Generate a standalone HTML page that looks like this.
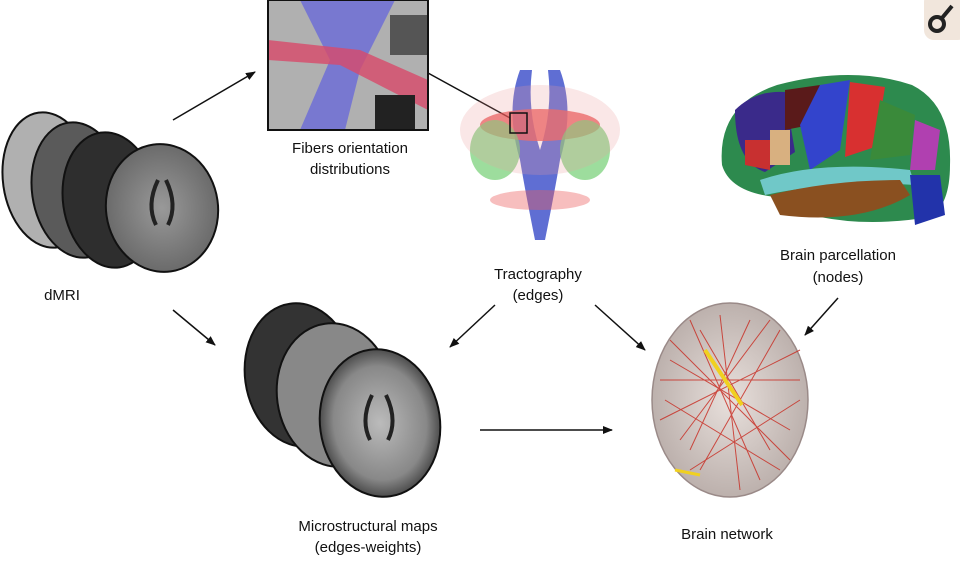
<!DOCTYPE html>
<html><head><meta charset="utf-8"><style>
html,body{margin:0;padding:0;background:#fff;}
svg{display:block;font-family:"Liberation Sans",sans-serif;}
</style></head><body>
<svg width="960" height="562" viewBox="0 0 960 562" xmlns="http://www.w3.org/2000/svg">
<defs>
<marker id="a" markerWidth="10" markerHeight="10" refX="9" refY="5" orient="auto" markerUnits="userSpaceOnUse"><path d="M0,1 L10,5 L0,9 z" fill="#111"/></marker>
<radialGradient id="g1" cx="50%" cy="50%" r="55%"><stop offset="0" stop-color="#999"/><stop offset="1" stop-color="#666"/></radialGradient>
<radialGradient id="g2" cx="50%" cy="50%" r="55%"><stop offset="0" stop-color="#bbb"/><stop offset="0.7" stop-color="#888"/><stop offset="1" stop-color="#333"/></radialGradient>
<radialGradient id="gb" cx="50%" cy="50%" r="55%"><stop offset="0" stop-color="#e8e0dc"/><stop offset="1" stop-color="#b8aca8"/></radialGradient>
</defs>
<rect width="960" height="562" fill="#fff"/>
<rect x="924" y="-8" width="44" height="48" rx="10" fill="#f1e6dc"/>
<circle cx="937" cy="24" r="7" fill="none" stroke="#222" stroke-width="4"/>
<line x1="942" y1="18" x2="952" y2="6" stroke="#222" stroke-width="4"/>
<!-- dMRI slices -->
<ellipse cx="48" cy="180" rx="45" ry="68" transform="rotate(-8 48 180)" fill="#b0b0b0" stroke="#111" stroke-width="2"/>
<ellipse cx="78" cy="190" rx="46" ry="68" transform="rotate(-8 78 190)" fill="#5a5a5a" stroke="#111" stroke-width="2"/>
<ellipse cx="110" cy="200" rx="47" ry="68" transform="rotate(-8 110 200)" fill="#2e2e2e" stroke="#111" stroke-width="2"/>
<ellipse cx="162" cy="208" rx="56" ry="64" transform="rotate(-8 162 208)" fill="url(#g1)" stroke="#111" stroke-width="2"/>
<path d="M158,180 q-12,25 -2,45 M166,180 q12,25 2,45" stroke="#222" stroke-width="4" fill="none"/>
<text x="62" y="300" font-size="15" fill="#111" text-anchor="middle">dMRI</text>
<!-- FOD box -->
<rect x="268" y="0" width="160" height="130" fill="#b0b0b0"/>
<path d="M300,0 L330,60 L300,130 L345,130 L360,70 L395,0 z" fill="#6a6ad8" opacity="0.8"/>
<path d="M268,60 L340,65 L428,110 L428,80 L360,50 L268,40 z" fill="#d84a6a" opacity="0.8"/>
<rect x="390" y="15" width="38" height="40" fill="#555"/>
<rect x="375" y="95" width="40" height="35" fill="#222"/>
<rect x="268" y="0" width="160" height="130" fill="none" stroke="#111" stroke-width="2"/>
<text x="350" y="153" font-size="15" fill="#111" text-anchor="middle">Fibers orientation</text>
<text x="350" y="174" font-size="15" fill="#111" text-anchor="middle">distributions</text>
<line x1="428" y1="73" x2="510" y2="118" stroke="#111" stroke-width="1.5"/>
<!-- tractography -->
<g opacity="0.85">
<path d="M520,70 q-15,40 0,90 q5,30 15,80 l10,0 q10,-50 15,-80 q15,-50 0,-90 l-12,0 q5,40 -8,80 q-13,-40 -8,-80 z" fill="#4455cc"/>
<ellipse cx="540" cy="125" rx="60" ry="16" fill="#e84040" opacity="0.8"/>
<ellipse cx="495" cy="150" rx="25" ry="30" fill="#5cc85c" opacity="0.7"/>
<ellipse cx="585" cy="150" rx="25" ry="30" fill="#5cc85c" opacity="0.7"/>
<ellipse cx="540" cy="130" rx="80" ry="45" fill="#e88a8a" opacity="0.25"/>
<ellipse cx="540" cy="200" rx="50" ry="10" fill="#e84040" opacity="0.4"/>
</g>
<rect x="510" y="113" width="17" height="20" fill="none" stroke="#111" stroke-width="1.5"/>
<text x="538" y="279" font-size="15" fill="#111" text-anchor="middle">Tractography</text>
<text x="538" y="300" font-size="15" fill="#111" text-anchor="middle">(edges)</text>
<!-- parcellation -->
<path d="M722,165 q-5,-60 55,-80 q75,-20 135,0 q40,20 38,80 q0,40 -20,52 q-60,10 -110,0 q-30,-5 -45,-20 q-45,-5 -53,-32 z" fill="#2d8a4e"/>
<path d="M735,110 q20,-20 50,-18 l10,60 l-30,20 q-30,-10 -30,-62 z" fill="#3a2a8a"/>
<path d="M785,90 l35,-5 l-10,40 l-25,5 z" fill="#5a1a1a"/>
<path d="M820,85 l30,-5 l-10,70 l-30,20 l-10,-45 z" fill="#3344cc"/>
<path d="M850,82 l35,5 l-10,60 l-30,10 z" fill="#d83030"/>
<path d="M880,100 l35,15 l-5,40 l-40,5 z" fill="#3a8a3a"/>
<path d="M915,120 l25,10 l-5,40 l-25,0 z" fill="#b040b0"/>
<path d="M770,130 l20,0 l0,35 l-20,0 z" fill="#d8b080"/>
<path d="M745,140 l25,0 l0,30 l-25,-5 z" fill="#c83030"/>
<path d="M760,180 q60,-20 150,-10 l5,15 q-80,-5 -150,10 z" fill="#70c8c8"/>
<path d="M770,195 q60,-15 130,-15 l10,15 q-50,30 -130,20 z" fill="#8a5020"/>
<path d="M910,175 l30,0 l5,40 l-30,10 z" fill="#2233aa"/>
<text x="838" y="260" font-size="15" fill="#111" text-anchor="middle">Brain parcellation</text>
<text x="838" y="282" font-size="15" fill="#111" text-anchor="middle">(nodes)</text>
<g stroke="#111" stroke-width="1.5" fill="none" marker-end="url(#a)">
<line x1="173" y1="120" x2="255" y2="72"/>
<line x1="173" y1="310" x2="215" y2="345"/>
<line x1="495" y1="305" x2="450" y2="347"/>
<line x1="595" y1="305" x2="645" y2="350"/>
<line x1="838" y1="298" x2="805" y2="335"/>
<line x1="480" y1="430" x2="612" y2="430"/>
</g>
<!-- microstructural -->
<ellipse cx="300" cy="375" rx="55" ry="72" transform="rotate(-8 300 375)" fill="#333" stroke="#111" stroke-width="2"/>
<ellipse cx="335" cy="395" rx="58" ry="72" transform="rotate(-8 335 395)" fill="#888" stroke="#111" stroke-width="2"/>
<ellipse cx="380" cy="423" rx="60" ry="74" transform="rotate(-8 380 423)" fill="url(#g2)" stroke="#111" stroke-width="2"/>
<path d="M372,395 q-12,25 -2,45 M386,395 q12,25 2,45" stroke="#222" stroke-width="4" fill="none"/>
<text x="368" y="531" font-size="15" fill="#111" text-anchor="middle">Microstructural maps</text>
<text x="368" y="552" font-size="15" fill="#111" text-anchor="middle">(edges-weights)</text>
<!-- brain network -->
<ellipse cx="730" cy="400" rx="78" ry="97" fill="url(#gb)" stroke="#9a8a88" stroke-width="1.5"/>
<g stroke="#c8281e" stroke-width="1" opacity="0.8">
<line x1="670" y1="340" x2="790" y2="460"/><line x1="690" y1="320" x2="760" y2="480"/>
<line x1="660" y1="380" x2="800" y2="380"/><line x1="700" y1="470" x2="780" y2="330"/>
<line x1="680" y1="440" x2="770" y2="320"/><line x1="660" y1="420" x2="800" y2="350"/>
<line x1="720" y1="315" x2="740" y2="490"/><line x1="670" y1="360" x2="790" y2="430"/>
<line x1="690" y1="470" x2="800" y2="400"/><line x1="665" y1="400" x2="780" y2="470"/>
<line x1="700" y1="330" x2="770" y2="450"/><line x1="750" y1="320" x2="690" y2="450"/>
</g>
<line x1="705" y1="350" x2="742" y2="405" stroke="#f0d020" stroke-width="4"/>
<line x1="675" y1="470" x2="700" y2="475" stroke="#f0d020" stroke-width="3"/>
<text x="727" y="539" font-size="15" fill="#111" text-anchor="middle">Brain network</text>
</svg>
</body></html>
